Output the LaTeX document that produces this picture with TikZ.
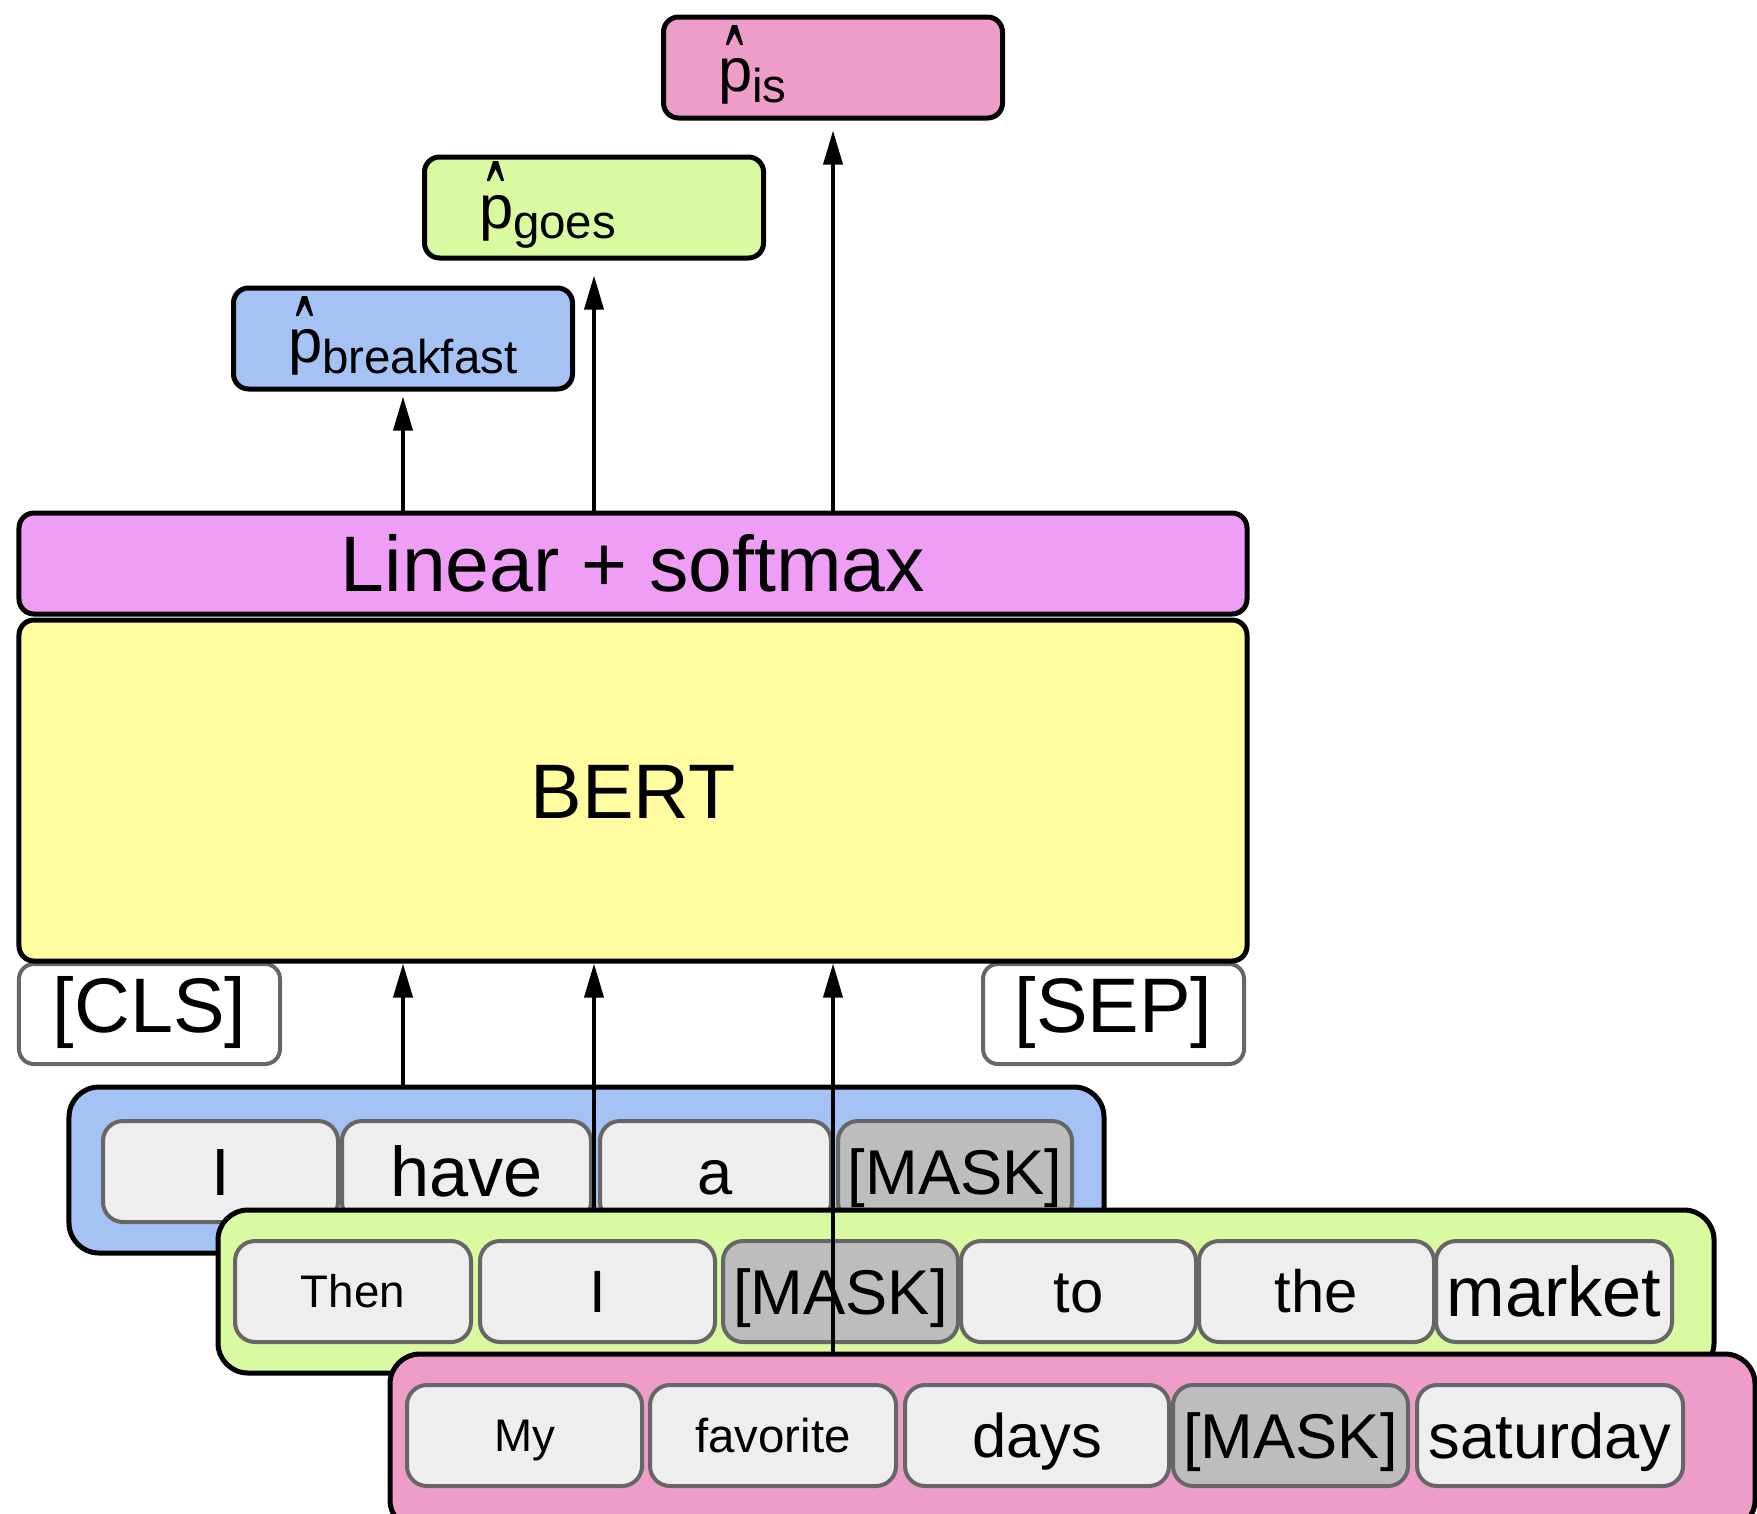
\documentclass[tikz,border=0pt]{standalone}
\usepackage{fontspec}
\setmainfont{Liberation Sans}
\usetikzlibrary{arrows.meta}
\definecolor{sentblue}{HTML}{A4C2F4}
\definecolor{sentgreen}{HTML}{D9FAA0}
\definecolor{sentpink}{HTML}{EE9DC8}
\definecolor{linviolet}{HTML}{EF9EF6}
\definecolor{bertyellow}{HTML}{FFFDA0}
\definecolor{tokgray}{HTML}{EEEEEE}
\definecolor{maskgray}{HTML}{BDBDBD}
\definecolor{tokline}{HTML}{666666}
\newcommand{\fs}[1]{\fontsize{#1}{#1}\selectfont}
\newcommand{\tk}[2]{\fs{#1}\raisebox{-0.358em}[0pt][0pt]{#2}}
\newcommand{\hatp}{\rlap{\hspace{0.14em}\raisebox{-0.6em}[1.0em][0pt]{\scalebox{0.85}[2.3]{\symbol{"02C6}}}}p}
\newcommand{\probtext}[1]{\makebox[23mm][l]{\fs{17.5}\hatp\raisebox{-3pt}{\fs{13.5}#1}}}
\begin{document}
\begin{tikzpicture}[x=1mm,y=-1mm]
\tikzstyle{every node}=[font=\fs{22}, inner sep=0.5mm]
\tikzstyle{layerbox}=[draw, line width=0.5mm, rounded corners=1.5mm, minimum width=122.8mm]
\tikzstyle{outbox}=[draw, line width=0.5mm, rounded corners=1.5mm, minimum width=33.9mm, minimum height=10.1mm]
\tikzstyle{specialtok}=[draw=tokline, line width=0.4mm, fill=white, rounded corners=1.5mm, minimum width=26.1mm, minimum height=10mm]
\tikzstyle{sent}=[draw, line width=0.5mm, rounded corners=3mm]
\tikzstyle{tok}=[draw=tokline, line width=0.4mm, fill=tokgray, rounded corners=2mm, minimum height=10.1mm]
\tikzstyle{masktok}=[tok, fill=maskgray]
\tikzstyle{arr}=[line width=0.38mm, -{Triangle[length=3.4mm,width=1.9mm]}]
\useasboundingbox (0,0) rectangle (175.7,151.3);
\clip (0,0) rectangle (175.7,151.3);
% output distributions
\node[outbox, fill=sentblue] (pbreak) at (40.3,33.85) {\probtext{breakfast}};
\node[outbox, fill=sentgreen] (pgoes) at (59.4,20.75) {\probtext{goes}};
\node[outbox, fill=sentpink] (pis) at (83.3,6.75) {\probtext{is}};
% special tokens
\node[specialtok] (cls) at (14.95,101.4) {\tk{22}{\raisebox{0.9mm}{[CLS]}}};
\node[specialtok] (sep) at (111.35,101.4) {\tk{22}{\raisebox{0.9mm}{[SEP]}}};
% layers
\node[layerbox, fill=linviolet, minimum height=10.1mm] (lin) at (63.3,56.35) {\tk{22.4}{Linear + softmax}};
\node[layerbox, fill=bertyellow, minimum height=34.1mm] (bert) at (63.3,79.05) {\tk{22}{BERT}};
% sentence A
\node[sent, fill=sentblue, minimum width=103.5mm, minimum height=16.6mm] (sent1) at (58.65,117.0) {};
\node[tok, minimum width=23.5mm] (a1) at (22.05,117.15) {\tk{19}{I}};
\node[tok, minimum width=24.9mm] (a2) at (46.65,117.15) {\tk{20}{have}};
\node[tok, minimum width=23.1mm] (a3) at (71.55,117.15) {\tk{18}{a}};
\node[masktok, minimum width=23.4mm] (a4) at (95.5,117.15) {\tk{18}{[MASK]}};
% sentence B
\node[sent, fill=sentgreen, minimum width=149.6mm, minimum height=16.3mm] (sent2) at (96.6,129.15) {};
\node[tok, minimum width=23.6mm] (b1) at (35.3,129.15) {\tk{13}{Then}};
\node[tok, minimum width=23.5mm] (b2) at (59.75,129.15) {\tk{17}{I}};
\node[masktok, minimum width=23.5mm] (b3) at (84.05,129.15) {\tk{18}{[MASK]}};
\node[tok, minimum width=23.5mm] (b4) at (107.85,129.15) {\tk{17}{to}};
\node[tok, minimum width=23.5mm] (b5) at (131.65,129.15) {\tk{17}{the}};
\node[tok, minimum width=23.6mm] (b6) at (155.4,129.15) {\tk{20}{market}};
% sentence C
\node[sent, fill=sentpink, minimum width=136.5mm, minimum height=17.6mm] (sent3) at (107.25,144.2) {};
\node[tok, minimum width=23.5mm] (c1) at (52.45,143.55) {\tk{13}{My}};
\node[tok, minimum width=24.6mm] (c2) at (77.3,143.55) {\tk{13.5}{favorite}};
\node[tok, minimum width=26.4mm] (c3) at (103.7,143.55) {\tk{17.5}{days}};
\node[masktok, minimum width=23.5mm] (c4) at (129.05,143.55) {\tk{18}{[MASK]}};
\node[tok, minimum width=26.6mm] (c5) at (155.0,143.55) {\tk{18}{saturday}};
%%%%%%%%%%%%%%%%
\draw[arr] (sent1.north -| pbreak.south) -- (bert.south -| pbreak.south);
\draw[arr] (sent2.north -| pgoes.south) -- (bert.south -| pgoes.south);
\draw[arr] (sent3.north -| pis.south) -- (bert.south -| pis.south);
\draw[arr, shorten >=0.5mm] (lin.north -| pbreak.south) -- (pbreak.south);
\draw[arr, shorten >=1.5mm] (lin.north -| pgoes.south) -- (pgoes.south);
\draw[arr, shorten >=1mm] (lin.north -| pis.south) -- (pis.south);
\end{tikzpicture}
\end{document}
